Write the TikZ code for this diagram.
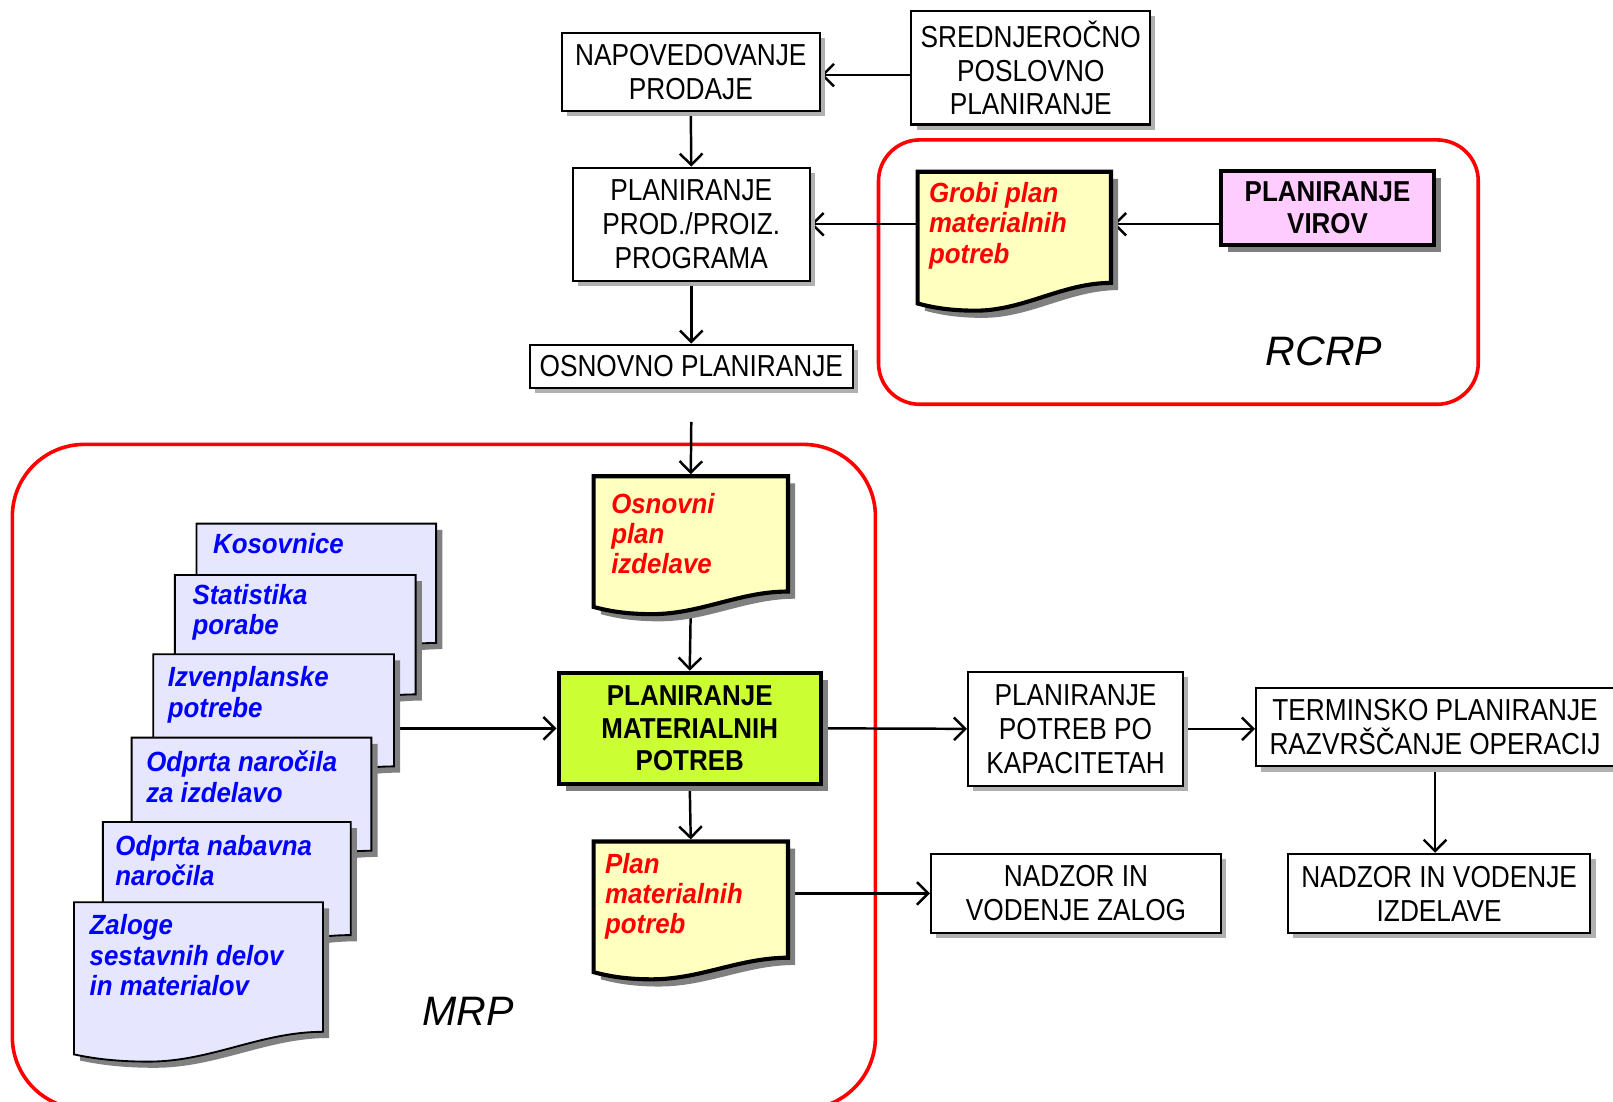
\documentclass[tikz,border=0pt]{standalone}
\usepackage{fontspec}
\setmainfont{Liberation Sans}
\newfontfamily\fontReg[FakeStretch=0.865]{Liberation Sans}
\newfontfamily\fontBold[FakeStretch=0.9]{Liberation Sans}
\newfontfamily\fontDoc[FakeStretch=0.93]{Liberation Sans}
\newfontfamily\fontTitle{Liberation Sans}
\usetikzlibrary{arrows.meta,shadows,calc}
\pgfdeclarelayer{background}
\pgfsetlayers{background,main}
\definecolor{docY}{HTML}{FFFFC0}
\definecolor{docB}{HTML}{E6E6FF}
\definecolor{pmpG}{HTML}{CCFF33}
\definecolor{virP}{HTML}{FFCCFF}
\definecolor{shL}{HTML}{B0B0B0}
\definecolor{shD}{HTML}{808080}
\definecolor{frameR}{HTML}{FF0000}
\tikzset{
  plainbox/.style={draw, line width=2pt, fill=white, align=center, inner sep=0pt,
    font=\fontReg\fontsize{29.5}{33}\selectfont,
    drop shadow={shadow xshift=5pt,shadow yshift=-5pt,fill=shL,opacity=1}},
  boldbox/.style={draw, line width=4pt, align=center, inner sep=0pt,
    font=\fontBold\bfseries\fontsize{28}{31.5}\selectfont,
    drop shadow={shadow xshift=7pt,shadow yshift=-7pt,fill=shD,opacity=1}},
  docarea/.style={inner sep=0pt, outer sep=0pt},
  docyel/.style={draw, line width=4pt, fill=docY,
    drop shadow={shadow xshift=7pt,shadow yshift=-7pt,fill=shD,opacity=1}},
  docblue/.style={draw, line width=1.8pt, fill=docB,
    drop shadow={shadow xshift=6pt,shadow yshift=-6pt,fill=shD,opacity=1}},
  redtxt/.style={anchor=north west, inner sep=0pt, align=left, text=red,
    font=\fontDoc\bfseries\itshape\fontsize{27}{29.5}\selectfont},
  bluetxt/.style={anchor=north west, inner sep=0pt, align=left, text=blue,
    font=\fontDoc\bfseries\itshape\fontsize{27}{29.5}\selectfont},
  conn/.style={-{Straight Barb[length=11pt,width=22pt]}, line width=2.4pt},
  groupframe/.style={draw=frameR, line width=3.5pt, inner sep=0pt},
  grouptitle/.style={font=\fontTitle\itshape\fontsize{40}{44}\selectfont, inner sep=0pt}
}
% #1 node, #2 width, #3 rise of right corner, #4 style
\newcommand\docpath[4]{%
  \path[#4] (#1.north west) -- (#1.north east) -- ([yshift=#3pt]#1.south east)
    .. controls ([xshift={-0.25*#2pt},yshift=#3pt]#1.south east)
       and ([xshift={0.55*#2pt},yshift=-7pt]#1.south west)
    .. ([xshift={0.3*#2pt},yshift=-7pt]#1.south west)
    .. controls ([xshift={0.15*#2pt},yshift=-7pt]#1.south west)
       and ([xshift={0.06*#2pt},yshift=-3pt]#1.south west)
    .. (#1.south west) -- cycle;}
\begin{document}
\begin{tikzpicture}[x=1pt,y=-1pt]
\useasboundingbox (0,0) rectangle (1568,1071);

% rectangular nodes
\node[plainbox, minimum width=251pt, minimum height=76pt] (nap) at (671.5,70) {NAPOVEDOVANJE\\PRODAJE};
\node[plainbox, minimum width=232pt, minimum height=110pt] (sred) at (1002,66) {SREDNJEROČNO\\POSLOVNO\\PLANIRANJE};
\node[plainbox, minimum width=230pt, minimum height=110pt] (prod) at (672,218) {PLANIRANJE\\PROD./PROIZ.\\PROGRAMA};
\node[plainbox, minimum width=314pt, minimum height=42pt] (osn) at (672,356) {OSNOVNO PLANIRANJE};
\node[boldbox, fill=virP, minimum width=207pt, minimum height=72pt] (virov) at (1290.5,202) {PLANIRANJE\\VIROV};
\node[boldbox, fill=pmpG, minimum width=255pt, minimum height=108pt] (pmp) at (670.5,708) {PLANIRANJE\\MATERIALNIH\\POTREB};
\node[plainbox, minimum width=209pt, minimum height=111pt] (kap) at (1045.5,708.5) {PLANIRANJE\\POTREB PO\\KAPACITETAH};
\node[plainbox, minimum width=348pt, minimum height=76pt] (term) at (1395,707) {TERMINSKO PLANIRANJE\\RAZVRŠČANJE OPERACIJ};
\node[plainbox, minimum width=282pt, minimum height=77pt] (zalog) at (1046,868.5) {NADZOR IN\\VODENJE ZALOG};
\node[plainbox, minimum width=294pt, minimum height=77pt] (izd) at (1399,868.5) {NADZOR IN VODENJE\\IZDELAVE};

% yellow documents
\node[docarea, minimum width=188pt, minimum height=128pt] (grobi) at (986,231) {};
\docpath{grobi}{188}{20}{docyel}
\node[redtxt] (grobit) at (903,177) {Grobi plan\\materialnih\\potreb};

\node[docarea, minimum width=189pt, minimum height=127pt] (osnovni) at (671.5,526.5) {};
\docpath{osnovni}{189}{15}{docyel}
\node[redtxt] (osnovnit) at (594,479) {Osnovni\\plan\\izdelave};

\node[docarea, minimum width=189pt, minimum height=127pt] (plan) at (671.5,881.5) {};
\docpath{plan}{189}{14}{docyel}
\node[redtxt] (plant) at (588,829) {Plan\\materialnih\\potreb};

% blue stacked documents
\node[docarea, minimum width=233pt, minimum height=132pt] (kos) at (307.5,575) {};
\docpath{kos}{233}{16}{docblue}
\node[bluetxt] (kost) at (207,518) {Kosovnice};

\node[docarea, minimum width=234pt, minimum height=132pt] (stat) at (287,625) {};
\docpath{stat}{234}{16}{docblue}
\node[bluetxt] (statt) at (187,568) {Statistika\\porabe};

\node[docarea, minimum width=234pt, minimum height=125pt] (izv) at (266,698.5) {};
\docpath{izv}{234}{16}{docblue}
\node[bluetxt] (izvt) at (163,648) {Izvenplanske\\potrebe};

\node[docarea, minimum width=233pt, minimum height=126pt] (odz) at (244.5,780) {};
\docpath{odz}{233}{16}{docblue}
\node[bluetxt] (odzt) at (142,730) {Odprta naročila\\za izdelavo};

\node[docarea, minimum width=241pt, minimum height=126pt] (odn) at (220.5,862) {};
\docpath{odn}{241}{16}{docblue}
\node[bluetxt] (odnt) at (112,812) {Odprta nabavna\\naročila};

\node[docarea, minimum width=242pt, minimum height=148pt] (zal) at (193,951) {};
\docpath{zal}{242}{22}{docblue}
\node[bluetxt] (zalt) at (87,889) {Zaloge\\sestavnih delov\\in materialov};

% group titles
\node[grouptitle] (rcrp) at (1287,342) {RCRP};
\node[grouptitle] (mrp) at (455,983) {MRP};

\coordinate (osnin) at (672,410);

\begin{pgfonlayer}{background}
\node[groupframe, rounded corners=40pt, minimum width=583pt, minimum height=257pt] (rcrpbox) at (1145.5,264.5) {};
\node[groupframe, rounded corners=70pt, minimum width=839pt, minimum height=646pt] (mrpbox) at (431.5,755) {};

\draw[conn] ([yshift=-3pt]sred.west |- nap.east) -- ([yshift=-3pt]nap.east);
\draw[conn] (nap.south) -- (prod.north);
\draw[conn] (prod.south) -- (osn.north);
\draw[conn, shorten >=2pt] (virov.west |- prod.east) -- (grobi.east |- prod.east);
\draw[conn] (grobi.west |- prod.east) -- (prod.east);
\draw[conn, shorten >=2pt] (osnin) -- (osnovni.north);
\draw[conn] (osnovni.south) -- (pmp.north);
\draw[conn, shorten >=2pt] (pmp.south) -- (plan.north);
\draw[conn] (izv.east |- pmp.west) -- (pmp.west);
\draw[conn] (pmp.east) -- (kap.west);
\draw[conn] (kap.east) -- (kap.east -| term.west);
\draw[conn] (term.south) -- (term.south |- izd.north);
\draw[conn] (plan.east |- zalog.west) -- (zalog.west);
\end{pgfonlayer}
\end{tikzpicture}
\end{document}
